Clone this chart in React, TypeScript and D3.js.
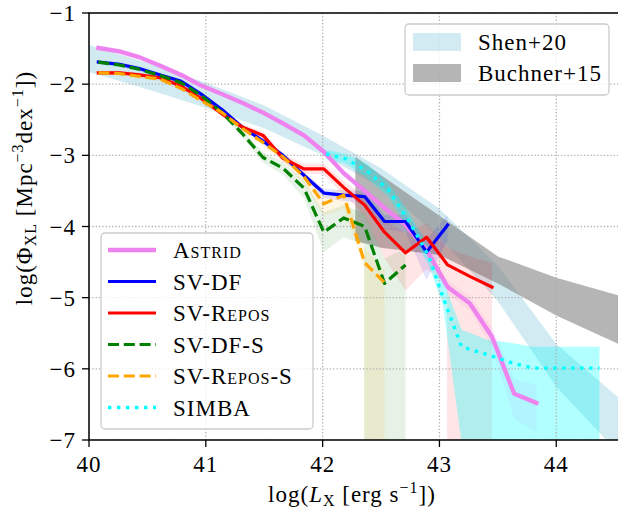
import React from 'react';
import * as d3 from 'd3';

const xTicks = [40, 41, 42, 43, 44];
const yTicks = [-7, -6, -5, -4, -3, -2, -1];

const binX = [40.08, 40.26, 40.43, 40.61, 40.79, 40.96, 41.14, 41.31, 41.49, 41.66, 41.84, 42.01, 42.18, 42.36, 42.53, 42.71, 42.89, 43.07, 43.26, 43.45, 43.64, 43.83];

const astridY = [-1.49, -1.54, -1.62, -1.74, -1.87, -2.02, -2.14, -2.26, -2.40, -2.55, -2.72, -2.95, -3.25, -3.50, -3.74, -3.98, -4.33, -4.85, -5.08, -5.55, -6.35, -6.48];
const astridHi = [-1.46, -1.51, -1.59, -1.71, -1.84, -1.99, -2.11, -2.23, -2.37, -2.52, -2.69, -2.91, -3.20, -3.45, -3.69, -3.92, -4.26, -4.75, -4.98, -5.42, -6.15, -6.22];
const astridLo = [-1.52, -1.57, -1.65, -1.77, -1.90, -2.05, -2.17, -2.29, -2.43, -2.58, -2.75, -2.99, -3.30, -3.55, -3.79, -4.04, -4.40, -4.95, -5.18, -5.70, -6.70, -6.90];

const dfY = [-1.69, -1.72, -1.78, -1.87, -1.96, -2.14, -2.36, -2.60, -2.80, -3.00, -3.28, -3.53, -3.56, -3.58, -3.93, -3.93, -4.36, -3.98];
const dfHi = [-1.66, -1.69, -1.75, -1.84, -1.93, -2.11, -2.33, -2.57, -2.77, -2.96, -3.23, -3.47, -3.49, -3.50, -3.84, -3.83, -4.18, -3.84];
const dfLo = [-1.72, -1.75, -1.81, -1.90, -1.99, -2.17, -2.39, -2.63, -2.83, -3.04, -3.33, -3.60, -3.64, -3.68, -4.04, -4.08, -4.75, -4.20];

const reposY = [-1.84, -1.84, -1.87, -1.91, -2.03, -2.20, -2.42, -2.60, -2.72, -3.04, -3.19, -3.19, -3.45, -3.70, -4.08, -4.37, -4.15, -4.54, -4.70, -4.85];
const reposBandX = [40.08, 40.26, 40.43, 40.61, 40.79, 40.96, 41.14, 41.31, 41.49, 41.66, 41.84, 42.01, 42.18, 42.36, 42.53, 42.71, 42.89, 43.065, 43.07, 43.26, 43.45];
const reposHi = [-1.81, -1.81, -1.84, -1.88, -2.00, -2.17, -2.39, -2.56, -2.67, -2.98, -3.12, -3.12, -3.36, -3.58, -3.90, -4.10, -3.95, -4.28, -4.30, -4.42, -4.51];
const reposLo = [-1.87, -1.87, -1.90, -1.94, -2.06, -2.23, -2.45, -2.64, -2.77, -3.10, -3.26, -3.27, -3.55, -3.85, -4.45, -4.90, -4.60, -4.80, -1000, -1000, -1000];

const dfsY = [-1.69, -1.73, -1.79, -1.88, -1.98, -2.16, -2.40, -2.69, -3.03, -3.18, -3.46, -4.08, -3.88, -4.00, -4.80, -4.54];
const dfsBandX = [40.08, 40.26, 40.43, 40.61, 40.79, 40.96, 41.14, 41.31, 41.49, 41.66, 41.84, 42.01, 42.18, 42.355, 42.36, 42.53, 42.71];
const dfsHi = [-1.66, -1.70, -1.76, -1.85, -1.95, -2.13, -2.36, -2.64, -2.96, -3.10, -3.35, -3.80, -3.70, -3.81, -3.82, -4.45, -4.30];
const dfsLo = [-1.72, -1.76, -1.82, -1.91, -2.01, -2.19, -2.44, -2.74, -3.10, -3.27, -3.60, -4.36, -4.15, -4.25, -1000, -1000, -1000];

const repossY = [-1.84, -1.85, -1.89, -1.93, -2.06, -2.23, -2.40, -2.62, -2.82, -3.02, -3.30, -3.68, -3.56, -4.51, -4.79];
const repossBandX = [40.08, 40.26, 40.43, 40.61, 40.79, 40.96, 41.14, 41.31, 41.49, 41.66, 41.84, 42.01, 42.18, 42.355, 42.36, 42.53];
const repossHi = [-1.81, -1.82, -1.86, -1.90, -2.03, -2.20, -2.37, -2.58, -2.77, -2.96, -3.22, -3.55, -3.45, -4.28, -4.30, -4.60];
const repossLo = [-1.87, -1.88, -1.92, -1.96, -2.09, -2.26, -2.43, -2.66, -2.87, -3.08, -3.40, -3.85, -3.75, -4.60, -1000, -1000];

const simbaX = [42.03, 42.20, 42.38, 42.56, 42.73, 42.91, 43.03, 43.19, 43.41, 43.63, 43.80, 44.00, 44.20, 44.37];
const simbaY = [-2.98, -3.05, -3.22, -3.48, -3.90, -4.42, -4.99, -5.69, -5.80, -5.92, -5.99, -5.99, -5.99, -5.99];
const simbaHi = [-2.92, -2.98, -3.12, -3.38, -3.78, -4.30, -4.75, -5.45, -5.59, -5.64, -5.69, -5.69, -5.69, -5.69];
const simbaLo = [-3.05, -3.12, -3.32, -3.58, -4.02, -4.55, -5.10, -7.05, -1000, -1000, -1000, -1000, -1000, -1000];

const shenX = [40.0, 40.5, 41.0, 41.5, 42.0, 42.5, 43.0, 43.5, 44.0, 44.6];
const shenHi = [-1.45, -1.70, -1.98, -2.30, -2.72, -3.18, -3.75, -4.55, -5.65, -6.50];
const shenLo = [-1.83, -2.07, -2.33, -2.62, -3.00, -3.45, -4.15, -5.05, -6.25, -7.30];

const buchX = [42.28, 42.5, 43.0, 43.5, 44.0, 44.6];
const buchHi = [-3.02, -3.28, -3.85, -4.42, -4.72, -5.00];
const buchLo = [-4.20, -4.30, -4.40, -4.80, -5.25, -5.70];

const W = 618, H = 510;
const L = 89, R = 620.5, T = 13, B = 440;
const FONT = 'Liberation Serif';
const FS = 23;
const LS = 1;

type Series = { name: string; sc?: boolean; color: string; x: number[]; y: number[]; bx: number[]; hi: number[]; lo: number[]; width: number; dash?: string; bandOpacity: number };

const series: Series[] = [
  { name: 'Astrid', sc: true, color: '#ee82ee', x: binX, y: astridY, bx: binX, hi: astridHi, lo: astridLo, width: 4.3, bandOpacity: 0.12 },
  { name: 'SV-DF', color: '#0000ff', x: binX, y: dfY, bx: binX, hi: dfHi, lo: dfLo, width: 3.2, bandOpacity: 0.1 },
  { name: 'SV-Repos', sc: true, color: '#ff0000', x: binX, y: reposY, bx: reposBandX, hi: reposHi, lo: reposLo, width: 3.2, bandOpacity: 0.1 },
  { name: 'SV-DF-S', color: '#008000', x: binX, y: dfsY, bx: dfsBandX, hi: dfsHi, lo: dfsLo, width: 3.2, dash: '11,4.8', bandOpacity: 0.1 },
  { name: 'SV-Repos-S', sc: true, color: '#ffa500', x: binX, y: repossY, bx: repossBandX, hi: repossHi, lo: repossLo, width: 3.2, dash: '11,4.8', bandOpacity: 0.1 },
  { name: 'SIMBA', color: '#00ffff', x: simbaX, y: simbaY, bx: simbaX, hi: simbaHi, lo: simbaLo, width: 3.4, dash: '3.4,5.6', bandOpacity: 0.3 },
];

const txt = { fontFamily: FONT, letterSpacing: LS };

export default function App() {
  const x = d3.scaleLinear().domain([40, 44.55]).range([L, R]);
  const y = d3.scaleLinear().domain([-7, -1]).range([B, T]);

  const area = (xs: number[], hi: number[], lo: number[]) =>
    d3.area<number>().x((_, i) => x(xs[i])).y0((_, i) => y(lo[i])).y1((_, i) => y(hi[i]))(hi) || '';
  const line = (xs: number[], ys: number[]) =>
    d3.line<number>().x((_, i) => x(xs[i])).y((_, i) => y(ys[i]))(ys) || '';

  const legRows = [250, 281.5, 313, 344.5, 376, 407.5];

  return (
    <svg width={W} height={H} style={{ position: 'absolute', left: 0, top: 0, background: '#fff', fontFamily: FONT }}>
      <defs>
        <clipPath id="plot"><rect x={L} y={T} width={R - L} height={B - T} /></clipPath>
      </defs>
      <g clipPath="url(#plot)">
        <path d={area(shenX, shenHi, shenLo)} fill="#add8e6" fillOpacity={0.55} />
        <path d={area(buchX, buchHi, buchLo)} fill="#808080" fillOpacity={0.58} />
        {series.map(s => (
          <path key={s.name + 'b'} d={area(s.bx, s.hi, s.lo)} fill={s.color} fillOpacity={s.bandOpacity} />
        ))}
        {xTicks.map(t => (
          <line key={'gx' + t} x1={x(t)} x2={x(t)} y1={T} y2={B} stroke="#b0b0b0" strokeWidth={1.3} strokeDasharray="1.3,2" />
        ))}
        {yTicks.map(t => (
          <line key={'gy' + t} x1={L} x2={R} y1={y(t)} y2={y(t)} stroke="#b0b0b0" strokeWidth={1.3} strokeDasharray="1.3,2" />
        ))}
        {series.map(s => (
          <path key={s.name + 'l'} d={line(s.x, s.y)} fill="none" stroke={s.color} strokeWidth={s.width}
            strokeDasharray={s.dash} strokeLinejoin="round" strokeLinecap={s.dash ? 'butt' : 'square'} />
        ))}
      </g>
      <rect x={L} y={T} width={R - L} height={B - T} fill="none" stroke="#000" strokeWidth={1.5} />
      {xTicks.map(t => (
        <g key={'tx' + t}>
          <line x1={x(t)} x2={x(t)} y1={B} y2={B + 7} stroke="#000" strokeWidth={1.3} />
          <text x={x(t)} y={472} fontSize={FS} textAnchor="middle" style={txt}>{t}</text>
        </g>
      ))}
      {yTicks.map(t => (
        <g key={'ty' + t}>
          <line x1={L - 7} x2={L} y1={y(t)} y2={y(t)} stroke="#000" strokeWidth={1.3} />
          <text x={76} y={y(t) + 8} fontSize={FS} textAnchor="end" style={txt}>{'\u2212' + Math.abs(t)}</text>
        </g>
      ))}
      <text x={352} y={502} fontSize={FS} textAnchor="middle" style={txt}>
        log(<tspan fontStyle="italic">L</tspan><tspan fontSize={16} dy={4}>X</tspan>
        <tspan dy={-4}> [erg s</tspan><tspan fontSize={16} dy={-9}>{'\u2212'}1</tspan><tspan dy={9}>])</tspan>
      </text>
      <g transform="translate(32,188) rotate(-90)">
        <text x={0} y={0} fontSize={FS} textAnchor="middle" style={txt}>
          log(Φ<tspan fontSize={16} dy={4}>XL</tspan><tspan dy={-4}> [Mpc</tspan><tspan fontSize={16} dy={-9}>{'\u2212'}3</tspan>
          <tspan dy={9}>dex</tspan><tspan fontSize={16} dy={-9}>{'\u2212'}1</tspan><tspan dy={9}>])</tspan>
        </text>
      </g>
      <rect x={405} y={24} width={204} height={71} rx={4} fill="#fff" fillOpacity={0.8} stroke="#cccccc" strokeWidth={1.3} />
      <rect x={413} y={33} width={48} height={18} fill="#add8e6" fillOpacity={0.55} />
      <rect x={413} y={64} width={48} height={18} fill="#808080" fillOpacity={0.58} />
      <text x={478} y={50} fontSize={FS} style={txt}>Shen+20</text>
      <text x={478} y={81} fontSize={FS} style={txt}>Buchner+15</text>
      <rect x={101} y={233} width={212} height={196} rx={4} fill="#fff" fillOpacity={0.8} stroke="#cccccc" strokeWidth={1.3} />
      {series.map((s, i) => (
        <g key={s.name + 'leg'}>
          <line x1={108} x2={156} y1={legRows[i]} y2={legRows[i]} stroke={s.color} strokeWidth={s.width} strokeDasharray={s.dash} />
          <text x={173} y={legRows[i] + 8} fontSize={FS} style={s.sc ? { ...txt, fontVariant: 'small-caps' } : txt}>{s.name}</text>
        </g>
      ))}
    </svg>
  );
}
